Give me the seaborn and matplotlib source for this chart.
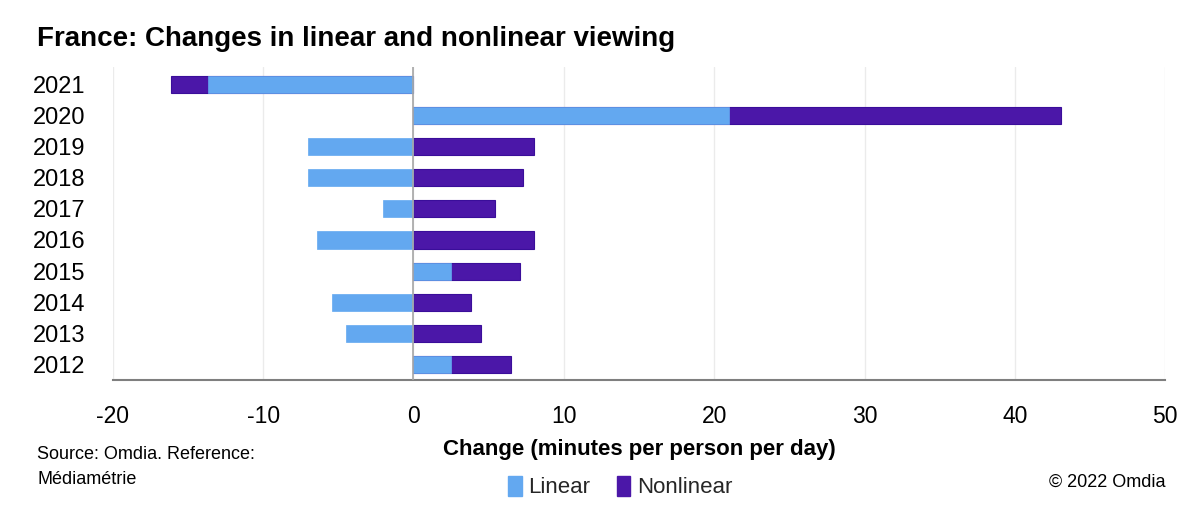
import numpy as np
import pandas as pd
import seaborn as sns
import matplotlib.pyplot as plt

# data
years = ['2021', '2020', '2019', '2018', '2017', '2016', '2015', '2014', '2013', '2012']
linear = [-13.7, 21.0, -7.0, -7.0, -2.0, -6.4, 2.5, -5.4, -4.5, 2.5]
nonlinear = [-2.4, 22.1, 8.0, 7.3, 5.4, 8.0, 4.6, 3.8, 4.5, 4.0]

c_lin = '#63A8F0'
c_non = '#4B17A8'

sns.set_theme(style='white')
plt.rcParams['font.family'] = ['Liberation Sans', 'DejaVu Sans']
plt.rcParams['axes.unicode_minus'] = False

df = pd.DataFrame({'year': years, 'linear': linear, 'nonlinear': nonlinear})
# nonlinear stacks on linear when both have the same sign
same = np.sign(df['linear']) == np.sign(df['nonlinear'])
df['non_end'] = np.where(same, df['linear'] + df['nonlinear'], df['nonlinear'])

fig = plt.figure(figsize=(12, 5.17), dpi=100)
ax = fig.add_axes([0.094, 0.265, 0.877, 0.605])

sns.barplot(data=df, x='non_end', y='year', order=years, color=c_non, saturation=1,
            width=0.55, edgecolor='#3A0E9A', linewidth=0.8, ax=ax, zorder=3)
sns.barplot(data=df, x='linear', y='year', order=years, color=c_lin, saturation=1,
            width=0.55, edgecolor=c_lin, linewidth=0.5, ax=ax, zorder=4)

ax.set_xlim(-20, 50)
ax.set_xticks(range(-20, 51, 10))
ax.set_ylim(9.5, -0.55)
ax.grid(axis='x', color='#EBEBEB', linewidth=1, zorder=0)
ax.axvline(0, color='#A6A6A6', linewidth=1.2, zorder=5)
for s in ['top', 'right', 'left']:
    ax.spines[s].set_visible(False)
ax.spines['bottom'].set_color('#7F7F7F')
ax.spines['bottom'].set_linewidth(1.5)

ax.tick_params(axis='x', labelsize=16.5, pad=18, length=0, colors='#000000')
ax.tick_params(axis='y', labelsize=17, length=0, pad=20, colors='#000000')
ax.set_ylabel('')
ax.set_xlabel('Change (minutes per person per day)', fontsize=16, fontweight='bold',
              labelpad=8, color='#000000')

fig.text(0.031, 0.925, 'France: Changes in linear and nonlinear viewing',
         fontsize=20, fontweight='bold', va='center', color='#000000')
fig.text(0.031, 0.097, 'Source: Omdia. Reference:\nMédiamétrie', fontsize=13,
         va='center', linespacing=1.6, color='#000000')
fig.text(0.971, 0.067, '© 2022 Omdia', fontsize=13, ha='right', va='center', color='#000000')

handles = [plt.Rectangle((0, 0), 1, 1, color=c_lin), plt.Rectangle((0, 0), 1, 1, color=c_non)]
fig.legend(handles, ['Linear', 'Nonlinear'], loc='center', bbox_to_anchor=(0.517, 0.058),
           ncol=2, frameon=False, fontsize=16, handlelength=0.6, handleheight=1.0,
           handletextpad=0.3, columnspacing=1.2)

fig.savefig('out.png', dpi=100)
